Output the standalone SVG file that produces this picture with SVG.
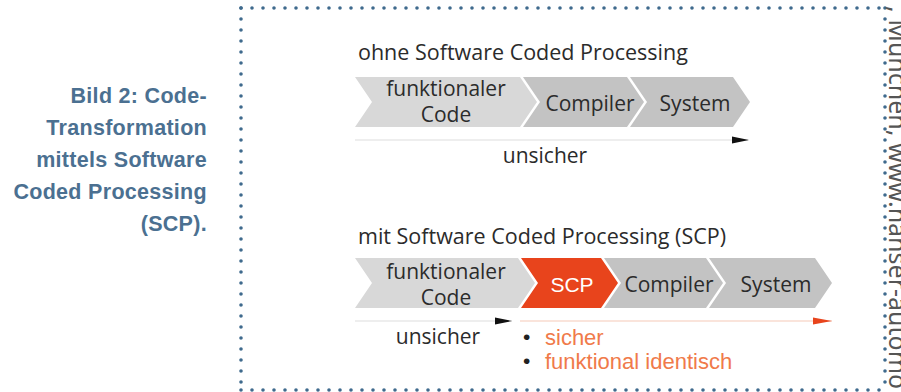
<svg xmlns="http://www.w3.org/2000/svg" width="901" height="392" viewBox="0 0 901 392">
<style>
.cap{font-family:"Liberation Sans",Arial,sans-serif;font-weight:bold;font-size:21.5px;fill:#4b7091;text-anchor:end;letter-spacing:0.3px}
.dot{stroke:#3f6a8d;stroke-width:3.6;stroke-linecap:round;stroke-dasharray:0 11;fill:none}
.t{font-family:"Open Sans","DejaVu Sans",sans-serif;fill:#2b2b2b;font-weight:500}
.ttl{font-size:21.5px}
.lbl{font-size:21px;text-anchor:middle}
.light{fill:#d8d8d8}
.dark{fill:#c3c3c3}
.red{fill:#e8441c}
.ar{font-family:"Liberation Sans",Arial,sans-serif;font-size:21px}
.or{fill:#f07a4a;font-size:22px}
.side{font-family:"Noto Sans","Open Sans",sans-serif;font-size:25px;fill:#555}
</style>
<rect width="901" height="392" fill="#fff"/>

<g id="caption">
<text class="cap" x="207" y="103">Bild 2: Code-</text>
<text class="cap" x="207" y="135">Transformation</text>
<text class="cap" x="207" y="167">mittels Software</text>
<text class="cap" x="207" y="199">Coded Processing</text>
<text class="cap" x="207" y="231">(SCP).</text>
</g>

<g id="border">
<line class="dot" x1="241" y1="8" x2="885" y2="8"/>
<line class="dot" x1="241" y1="8" x2="241" y2="390"/>
<line class="dot" x1="241" y1="390" x2="885" y2="390"/>
<line class="dot" x1="885" y1="8" x2="885" y2="390"/>
</g>

<g id="side-credit">
<text class="side" transform="translate(889,6) rotate(90)">, München, www.hanser-automo</text>
</g>

<g id="title1"><text class="t ttl" x="358" y="60">ohne Software Coded Processing</text></g>

<g id="row1-code">
<path class="light" d="M355,77 L520,77 L537,102 L520,127 L355,127 L372,102 Z"/>
<text class="t lbl" x="446" y="96">funktionaler</text>
<text class="t lbl" x="446" y="122">Code</text>
</g>
<g id="row1-compiler">
<path class="dark" d="M523,77 L627,77 L644,102 L627,127 L523,127 L540,102 Z"/>
<text class="t lbl" x="590" y="111">Compiler</text>
</g>
<g id="row1-system">
<path class="dark" d="M630,77 L733,77 L750,102 L733,127 L630,127 L647,102 Z"/>
<text class="t lbl" x="695" y="111">System</text>
</g>

<g id="title2"><text class="t ttl" x="358" y="244">mit Software Coded Processing (SCP)</text></g>

<g id="row2-code">
<path class="light" d="M355,258 L518,258 L535,283 L518,308 L355,308 L372,283 Z"/>
<text class="t lbl" x="446" y="279">funktionaler</text>
<text class="t lbl" x="446" y="305">Code</text>
</g>
<g id="row2-scp">
<path class="red" d="M521,258 L601,258 L618,283 L601,308 L521,308 L538,283 Z"/>
<text class="ar" x="572" y="292" fill="#fff" text-anchor="middle">SCP</text>
</g>
<g id="row2-compiler">
<path class="dark" d="M604,258 L706,258 L723,283 L706,308 L604,308 L621,283 Z"/>
<text class="t lbl" x="669" y="292">Compiler</text>
</g>
<g id="row2-system">
<path class="dark" d="M709,258 L815,258 L832,283 L815,308 L709,308 L726,283 Z"/>
<text class="t lbl" x="776" y="292">System</text>
</g>

<g id="connectors">
<line x1="355" y1="140" x2="748" y2="140" stroke="#ddd" stroke-width="1.2"/>
<path d="M732,136.5 L749,140 L732,143.5 Z" fill="#111"/>
<line x1="355" y1="321" x2="512" y2="321" stroke="#ddd" stroke-width="1.2"/>
<path d="M495,317.5 L512,321 L495,324.5 Z" fill="#111"/>
<line x1="520" y1="321" x2="832" y2="321" stroke="#f6c9b8" stroke-width="1.2"/>
<path d="M813,317.5 L832,321 L813,324.5 Z" fill="#e8441c"/>
</g>

<g id="labels">
<text class="t lbl" x="545" y="163">unsicher</text>
<text class="t lbl" x="438" y="344">unsicher</text>
<text class="ar" x="523" y="344" fill="#222" font-size="17">•</text>
<text class="ar or" x="545" y="345">sicher</text>
<text class="ar" x="523" y="368" fill="#222" font-size="17">•</text>
<text class="ar or" x="545" y="369">funktional identisch</text>
</g>
</svg>
